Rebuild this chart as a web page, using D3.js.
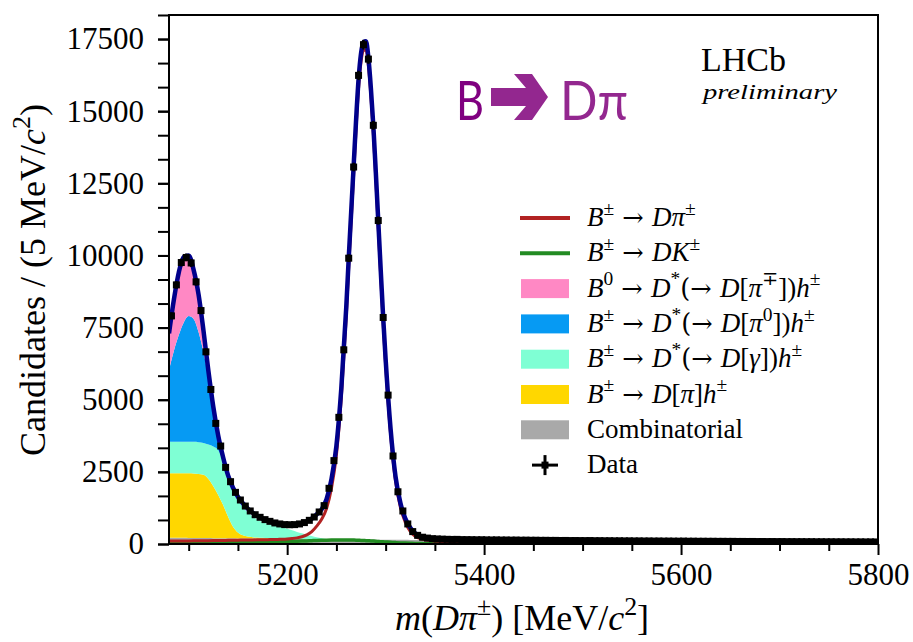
<!DOCTYPE html>
<html><head><meta charset="utf-8">
<script src="https://cdnjs.cloudflare.com/ajax/libs/d3/7.8.5/d3.min.js"></script>
<style>body{margin:0;background:#fff} text{white-space:pre}</style>
</head><body>
<svg id="chart" width="913" height="642"></svg>
<script>
// ---------------- data ----------------
const massRange = [5080, 5800];
const binWidth = 5;
const yMax = 18333;
const yMajorTicks = [0, 2500, 5000, 7500, 10000, 12500, 15000, 17500];
const xMajorTicks = [5200, 5400, 5600, 5800];

// data: candidates per 5 MeV bin (bin centres 5082.5 ... 5797.5)
const dataCounts = [
 7906, 8980, 9755, 9930, 9740, 9085, 8090, 6660, 5355, 4180,
 3395, 2655, 2160, 1790, 1525, 1315, 1145, 1015, 925, 845,
 785, 730, 695, 672, 668, 672, 695, 742, 820, 935,
 1110, 1330, 1930, 2890, 4390, 6730, 9905, 13065, 16240, 17305,
 16805, 14510, 11210, 7850, 5160, 3050, 1810, 1145, 695, 430,
 300, 235, 205, 185, 175, 168,
 162, 158, 160, 152, 151, 149, 146, 147, 143, 140,
 142, 137, 138, 134, 136, 131, 133, 129, 130, 126,
 127, 124, 125, 121, 123, 119, 120, 118, 117, 119,
 114, 115, 112, 113, 110, 111, 108, 109, 106, 107,
 104, 105, 102, 103, 100, 101, 99, 98, 100, 96,
 97, 94, 95, 93, 94, 91, 92, 90, 91, 88,
 89, 87, 88, 85, 86, 84, 85, 83, 84, 81,
 82, 80, 81, 79, 80, 77, 78, 76, 77, 75,
 76, 74, 75, 73, 74, 72, 73, 71
];

// fit model, evaluated on a mass grid
const curveMass = [
 5080, 5085, 5090, 5095, 5100, 5105, 5110, 5115, 5120, 5125,
 5130, 5135, 5140, 5145, 5150, 5155, 5160, 5165, 5170, 5175,
 5180, 5185, 5190, 5195, 5200, 5205, 5210, 5215, 5220, 5225,
 5230, 5235, 5240, 5245, 5250, 5255, 5260,
 5262.5, 5265, 5267.5, 5270, 5272.5, 5275, 5277.5, 5280, 5282.5, 5285,
 5287.5, 5290, 5292.5, 5295, 5297.5, 5300,
 5305, 5310, 5315, 5320, 5325, 5330, 5335, 5340,
 5350, 5360, 5370, 5380,
 5400, 5450, 5500, 5550, 5600, 5650, 5700, 5750, 5800
];
const fitTotal = [
 7300, 8480, 9420, 9950, 10000, 9500, 8650, 7400, 6000, 4750,
 3750, 3000, 2380, 1950, 1640, 1410, 1230, 1080, 965, 880,
 810, 755, 712, 682, 668, 666, 680, 715, 780, 880,
 1030, 1200, 1550, 2250, 3400, 5400, 8200,
 9900, 11500, 13100, 14700, 16100, 17000, 17400, 17420, 16850, 15800,
 14500, 12900, 11200, 9500, 7850, 6400,
 4000, 2350, 1420, 880, 560, 370, 270, 220,
 180, 165, 158, 152,
 145, 132, 121, 112, 103, 95, 88, 81, 74
];
const sigDPi = [
 100, 102, 104, 106, 108, 110, 112, 114, 116, 118,
 121, 124, 127, 130, 133, 136, 139, 142, 145, 148,
 151, 154, 158, 165, 175, 190, 212, 250, 315, 430,
 620, 860, 1230, 1930, 3080, 5080, 7880,
 9600, 11200, 12800, 14400, 15800, 16700, 17100, 17130, 16580, 15540,
 14250, 12660, 10970, 9280, 7640, 6200,
 3820, 2190, 1270, 750, 440, 270, 190, 145,
 100, 68, 50, 38,
 23, 12, 8, 6, 5, 4, 3, 3, 2
];
const sigDK = [
 40, 40, 41, 41, 42, 42, 43, 44, 44, 45,
 46, 47, 48, 49, 50, 52, 54, 56, 58, 61,
 64, 68, 72, 77, 82, 88, 94, 101, 108, 115,
 122, 128, 133, 137, 140, 141, 140,
 139, 137, 135, 132, 129, 125, 121, 116, 111, 106,
 100, 94, 88, 82, 76, 70,
 59, 48, 39, 31, 24, 19, 15, 12,
 8, 6, 5, 4,
 3, 2, 2, 1, 1, 1, 1, 1, 1
];
const bkgComb = [
 220, 218, 216, 214, 212, 210, 208, 206, 204, 202,
 200, 198, 197, 195, 193, 191, 190, 188, 186, 185,
 183, 181, 180, 178, 177, 175, 174, 172, 171, 169,
 168, 166, 165, 163, 162, 161, 159,
 159, 158, 157, 157, 156, 155, 155, 154, 153, 153,
 152, 151, 151, 150, 149, 149,
 147, 146, 145, 144, 142, 141, 140, 139,
 136, 134, 131, 129,
 125, 115, 106, 98, 91, 84, 78, 72, 67
];
// partially reconstructed backgrounds (grid points 5080 ... 5240, zero beyond)
const bkgDPiH = [
 2230, 2232, 2234, 2236, 2236, 2230, 2215, 2190, 2046, 1800,
 1500, 1150, 750, 405, 205, 110, 70, 50, 38, 30,
 22, 16, 12, 8, 6, 4, 3, 2, 1, 1,
 0, 0, 0
];
const bkgDstGamma = [
 1090, 1090, 1090, 1090, 1092, 1100, 1107, 1104, 1200, 1378,
 1550, 1502, 1303, 1220, 1102, 969, 830, 712, 616, 545,
 495, 463, 428, 394, 347, 301, 243, 196, 148, 105,
 62, 29, 5
];
const bkgDstPi0 = [
 2490, 3160, 3710, 4140, 4360, 4260, 3820, 3150, 2300, 1270,
 400, 100, 50, 30, 15, 8, 4, 0, 0, 0,
 0, 0, 0, 0, 0, 0, 0, 0, 0, 0,
 0, 0, 0
];
const bkgB0 = [
 1170, 1680, 2070, 2170, 2000, 1600, 1200, 650, 150, 20,
 10, 0, 0, 0, 0, 0, 0, 0, 0, 0,
 0, 0, 0, 0, 0, 0, 0, 0, 0, 0,
 0, 0, 0
];

const stackKeys = ["comb", "dpih", "dstgamma", "dstpi0", "b0"];
const stackColors = {comb: "#a9a9a9", dpih: "#ffd700", dstgamma: "#7fffd4", dstpi0: "#069af3", b0: "#ff88c4"};

// ---------------- layout ----------------
const svg = d3.select("#chart");
const L = 169, R = 878, T = 15, B = 544;
const x = d3.scaleLinear().domain(massRange).range([L, R]);
const y = d3.scaleLinear().domain([0, yMax]).range([B, T]);
const serif = "'Liberation Serif', 'DejaVu Serif', serif";

svg.append("defs").append("clipPath").attr("id", "clip")
  .append("rect").attr("x", L).attr("y", T).attr("width", R - L).attr("height", B - T);
const plot = svg.append("g").attr("clip-path", "url(#clip)");

// stacked backgrounds
const rows = curveMass.map((m, i) => ({
  m,
  comb: bkgComb[i],
  dpih: bkgDPiH[i] || 0,
  dstgamma: bkgDstGamma[i] || 0,
  dstpi0: bkgDstPi0[i] || 0,
  b0: bkgB0[i] || 0
}));
const stacked = d3.stack().keys(stackKeys)(rows);
const area = d3.area().x(d => x(d.data.m)).y0(d => y(d[0])).y1(d => y(d[1])).curve(d3.curveMonotoneX);
plot.selectAll("path.bkg").data(stacked).join("path").attr("class", "bkg")
  .attr("d", area).attr("fill", d => stackColors[d.key]).attr("stroke", "none");

// component lines
const line = d3.line().x(d => x(d[0])).y(d => y(d[1])).curve(d3.curveMonotoneX);
plot.append("path").attr("d", line(curveMass.map((m, i) => [m, sigDK[i]])))
  .attr("fill", "none").attr("stroke", "#228b22").attr("stroke-width", 3.5);
plot.append("path").attr("d", line(curveMass.map((m, i) => [m, sigDPi[i]])))
  .attr("fill", "none").attr("stroke", "#b22222").attr("stroke-width", 3);
plot.append("path").attr("d", line(curveMass.map((m, i) => [m, fitTotal[i]])))
  .attr("fill", "none").attr("stroke", "#00008b").attr("stroke-width", 4.5);

// data points
const pts = dataCounts.map((v, i) => ({m: massRange[0] + binWidth * (i + 0.5), v}));
const dg = plot.append("g");
dg.selectAll("line.ey").data(pts).join("line")
  .attr("x1", d => x(d.m)).attr("x2", d => x(d.m))
  .attr("y1", d => y(d.v - Math.sqrt(d.v)) + 1).attr("y2", d => y(d.v + Math.sqrt(d.v)) - 1)
  .attr("stroke", "#000").attr("stroke-width", 2.5);
dg.selectAll("line.ex").data(pts).join("line")
  .attr("x1", d => x(d.m - binWidth / 2)).attr("x2", d => x(d.m + binWidth / 2))
  .attr("y1", d => y(d.v)).attr("y2", d => y(d.v))
  .attr("stroke", "#000").attr("stroke-width", 2);
dg.selectAll("rect").data(pts).join("rect")
  .attr("x", d => x(d.m) - 3.5).attr("y", d => y(d.v) - 3.5)
  .attr("width", 7).attr("height", 7).attr("fill", "#000");

// axes
const xMinor = d3.range(5100, 5801, 50).filter(v => !xMajorTicks.includes(v));
const yMinor = d3.range(0, yMax + 1, 2500 / 3);
const gx = svg.append("g").attr("transform", `translate(0,${B})`)
  .call(d3.axisBottom(x).tickValues(xMajorTicks).tickSize(11).tickPadding(8).tickFormat(d3.format("d")));
const gxm = svg.append("g").attr("transform", `translate(0,${B})`)
  .call(d3.axisBottom(x).tickValues(xMinor).tickSize(7).tickFormat(""));
const gy = svg.append("g").attr("transform", `translate(${L},0)`)
  .call(d3.axisLeft(y).tickValues(yMajorTicks).tickSize(11).tickPadding(14).tickFormat(d3.format("d")));
const gym = svg.append("g").attr("transform", `translate(${L},0)`)
  .call(d3.axisLeft(y).tickValues(yMinor).tickSize(11).tickFormat(""));
[gx, gxm, gy, gym].forEach(g => {
  g.attr("font-family", serif).attr("font-size", 31).style("font-family", serif);
  g.select(".domain").remove();
  g.selectAll(".tick line").attr("stroke", "#000").attr("stroke-width", 2);
  g.selectAll(".tick text").style("font-family", serif).style("font-size", "31px").attr("fill", "#000");
});

// frame
svg.append("rect").attr("x", L).attr("y", T).attr("width", R - L).attr("height", B - T)
  .attr("fill", "none").attr("stroke", "#000").attr("stroke-width", 2);

// rich math text helper
function mathText(sel, parts, size) {
  let shift = 0;
  parts.forEach(([t, s]) => {
    const sp = sel.append("tspan").text(t);
    const isSup = s === "sup" || s === "supi";
    const target = isSup ? -0.42 * size : 0;
    if (target !== shift) { sp.attr("dy", target - shift); shift = target; }
    sp.attr("font-size", isSup ? size * 0.72 : size);
    if (s === "i" || s === "supi") sp.attr("font-style", "italic");
    if (s === "arrow") sp.attr("font-family", "'DejaVu Serif', serif").attr("font-size", size * 0.95);
  });
}

// axis titles
const xt = svg.append("text").attr("x", 522).attr("y", 630).attr("text-anchor", "middle")
  .attr("font-family", serif).attr("font-size", 36).attr("fill", "#000");
mathText(xt, [["m", "i"], ["(", "r"], ["Dπ", "i"], ["±", "sup"], [") [MeV/", "r"], ["c", "i"], ["2", "sup"], ["]", "r"]], 36);
const yt = svg.append("text").attr("transform", "translate(45,280) rotate(-90)").attr("text-anchor", "middle")
  .attr("font-family", serif).attr("font-size", 36).attr("fill", "#000");
mathText(yt, [["Candidates / (5 MeV/", "r"], ["c", "i"], ["2", "sup"], [")", "r"]], 36);

// legend
const AR = [" \u2192 ", "arrow"];
const AR2 = ["(\u2192 ", "arrow"];
const legendItems = [
  {type: "line", color: "#b22222", parts: [["B","i"],["±","sup"],AR,["Dπ","i"],["±","sup"]]},
  {type: "line", color: "#228b22", parts: [["B","i"],["±","sup"],AR,["DK","i"],["±","sup"]]},
  {type: "patch", color: stackColors.b0, parts: [["B","i"],["0","sup"],AR,["D","i"],["*","sup"],AR2,["D","i"],["[","r"],["π","i"],["∓","sup"],["])","r"],["h","i"],["±","sup"]]},
  {type: "patch", color: stackColors.dstpi0, parts: [["B","i"],["±","sup"],AR,["D","i"],["*","sup"],AR2,["D","i"],["[","r"],["π","i"],["0","sup"],["])","r"],["h","i"],["±","sup"]]},
  {type: "patch", color: stackColors.dstgamma, parts: [["B","i"],["±","sup"],AR,["D","i"],["*","sup"],AR2,["D","i"],["[","r"],["γ","i"],["])","r"],["h","i"],["±","sup"]]},
  {type: "patch", color: stackColors.dpih, parts: [["B","i"],["±","sup"],AR,["D","i"],["[","r"],["π","i"],["]","r"],["h","i"],["±","sup"]]},
  {type: "patch", color: stackColors.comb, parts: [["Combinatorial","r"]]},
  {type: "data", color: "#000", parts: [["Data","r"]]}
];
const lg = svg.append("g");
legendItems.forEach((it, i) => {
  const cy = 218 + i * 35.3;
  if (it.type === "line") {
    lg.append("line").attr("x1", 520).attr("x2", 570).attr("y1", cy).attr("y2", cy)
      .attr("stroke", it.color).attr("stroke-width", 4);
  } else if (it.type === "patch") {
    lg.append("rect").attr("x", 521).attr("y", cy - 9.5).attr("width", 48).attr("height", 19).attr("fill", it.color);
  } else {
    lg.append("line").attr("x1", 532).attr("x2", 558).attr("y1", cy).attr("y2", cy).attr("stroke", "#000").attr("stroke-width", 3);
    lg.append("line").attr("x1", 545).attr("x2", 545).attr("y1", cy - 10).attr("y2", cy + 10).attr("stroke", "#000").attr("stroke-width", 3);
    lg.append("rect").attr("x", 541.5).attr("y", cy - 3.5).attr("width", 7).attr("height", 7).attr("fill", "#000");
  }
  const t = lg.append("text").attr("x", 587).attr("y", cy + 8).attr("font-family", serif).attr("font-size", 27).attr("fill", "#000");
  mathText(t, it.parts, 27);
});

// LHCb label
svg.append("text").attr("x", 701).attr("y", 71).attr("font-family", serif).attr("font-size", 34).attr("fill", "#000").text("LHCb");
svg.append("text").attr("x", 703).attr("y", 99).attr("font-family", serif).attr("font-size", 22)
  .attr("font-style", "italic").attr("fill", "#000")
  .attr("textLength", 134).attr("lengthAdjust", "spacingAndGlyphs").text("preliminary");

// purple process label
svg.append("text").attr("x", 456).attr("y", 120).attr("font-family", "Lato, 'Open Sans', sans-serif").attr("font-size", 54)
  .attr("fill", "#800080").attr("textLength", 28).attr("lengthAdjust", "spacingAndGlyphs").text("B");
svg.append("path").attr("d", "M491,88 L526,88 L514,74 L532,74 L548,97 L532,120 L514,120 L526,106 L491,106 Z")
  .attr("fill", "#93278f");
svg.append("text").attr("x", 560).attr("y", 120).attr("font-family", "Lato, 'Open Sans', sans-serif").attr("font-size", 54)
  .attr("fill", "#93278f").attr("textLength", 68).attr("lengthAdjust", "spacingAndGlyphs").text("Dπ");
</script>
</body></html>
